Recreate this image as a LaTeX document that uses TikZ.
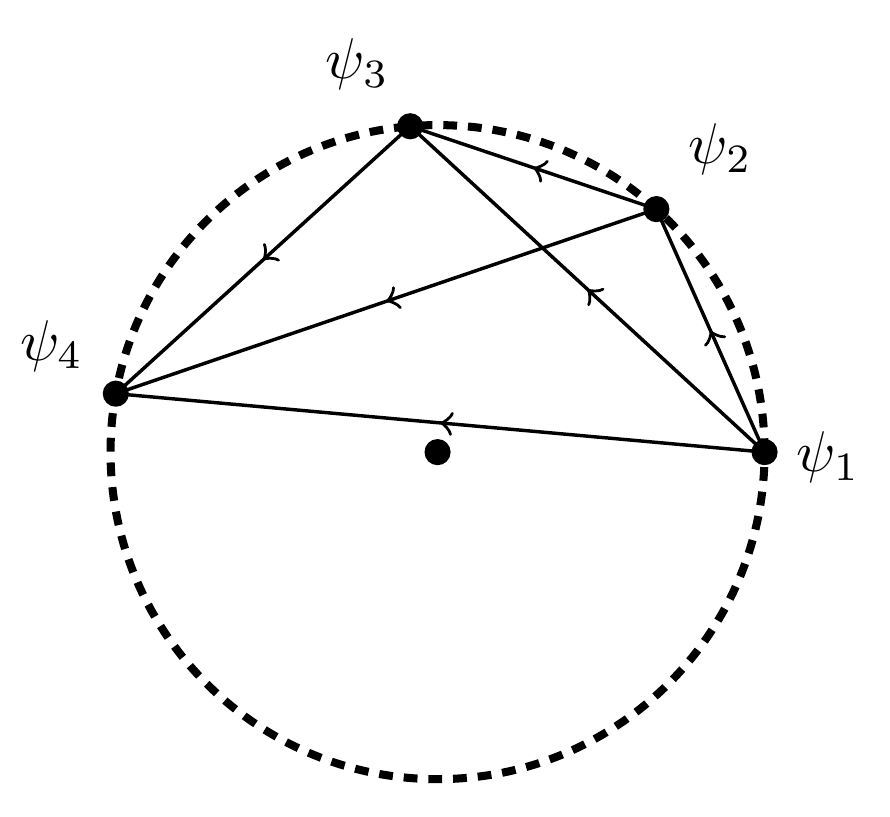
\documentclass[tikz,border=0pt]{standalone}
\usepackage{amsmath}
\usepackage{amssymb}
\usetikzlibrary{decorations.markings}

\begin{document}
\begin{tikzpicture}[
    dot/.style={
        circle,
        fill=black,
        inner sep=0pt,
        minimum size=0.16cm
    },
    rim/.style={
        line width=1.4pt,
        dash pattern=on 2.4pt off 1.9pt
    },
    chord/.style={
        semithick,
        postaction={decorate},
        decoration={markings, mark=at position 0.5 with {\arrow{to}}}
    }
]
\useasboundingbox (-2.676,-2.226) rectangle (2.767,2.765);

% CIRCLE
\draw[rim] (0,0) circle (2cm);
\node[dot] (centre) at (0,0) {};

% STATES
\node[dot] (p1) at (0:2cm)     {};
\node[dot] (p2) at (48:2cm)    {};
\node[dot] (p3) at (94.8:2cm)  {};
\node[dot] (p4) at (169.7:2cm) {};

\node (l1) at (2.39,-0.03)  {$\psi_1$};
\node (l2) at (1.73,1.85)   {$\psi_2$};
\node (l3) at (-0.49,2.37)  {$\psi_3$};
\node (l4) at (-2.36,0.65)  {$\psi_4$};

% CHORDS
\draw[chord] (p1.center) -- (p2.center);
\draw[chord] (p2.center) -- (p3.center);
\draw[chord] (p1.center) -- (p3.center);
\draw[chord] (p3.center) -- (p4.center);
\draw[chord] (p2.center) -- (p4.center);
\draw[chord] (p1.center) -- (p4.center);

\end{tikzpicture}
\end{document}
